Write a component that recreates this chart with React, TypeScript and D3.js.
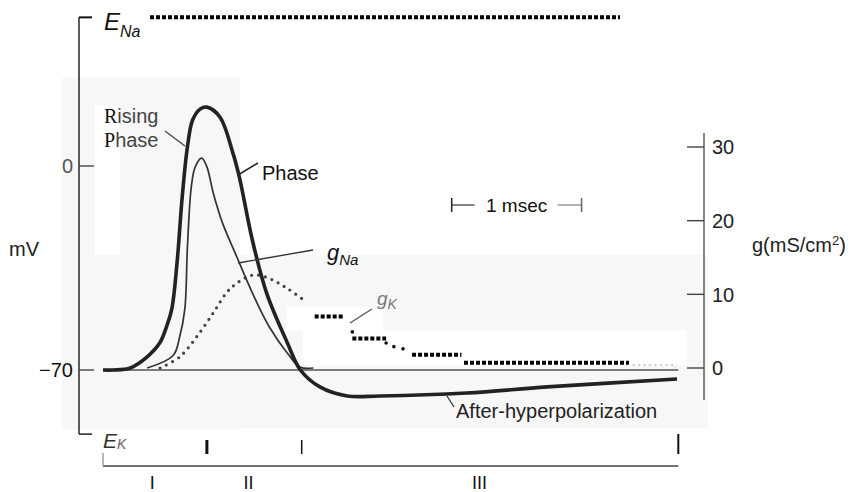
import React from 'react';
import * as d3 from 'd3';

const W = 855;
const H = 492;

// membrane potential (t in msec, mV)
const vTime = [0, 0.08, 0.21, 0.34, 0.44, 0.49, 0.53, 0.57, 0.61, 0.65, 0.69, 0.75, 0.8, 0.9, 1.0, 1.05, 1.15, 1.26, 1.42, 1.52, 1.67, 1.88, 2.13, 2.8, 3.42, 4.42];
const vMilli = [-70, -70, -69.3, -65.5, -60.5, -55, -49, -33.3, -10.6, 6.5, 15.8, 19.6, 20.2, 16.8, 4.5, -3.8, -25.4, -43.6, -60.7, -70, -75.8, -78.9, -78.9, -77.9, -75.8, -73.1];

// sodium conductance (mS/cm2)
const naTime = [0.34, 0.54, 0.59, 0.63, 0.65, 0.68, 0.71, 0.76, 0.8, 0.85, 0.92, 1.03, 1.15, 1.28, 1.42, 1.52, 1.62];
const naG = [0, 1.7, 4.2, 8.0, 16.4, 24.6, 27.3, 28.5, 27.3, 23.7, 19.7, 15.1, 10.2, 5.6, 2.0, 0.1, 0];

// potassium conductance, dotted part
const kTime = [0.44, 0.59, 0.72, 0.85, 0.95, 1.03, 1.15, 1.26, 1.42, 1.57];
const kG = [0, 1.5, 4.2, 7.5, 10.2, 11.5, 12.6, 12.3, 10.8, 8.9];
// potassium conductance, redrawn steps [t start, t end, g]
const kSteps = [
  [1.63, 1.86, 7.0],
  [1.92, 2.18, 4.0],
  [2.38, 2.76, 1.8],
  [2.78, 4.05, 0.7],
];
const kLinkTime = [1.92, 2.18, 2.24, 2.31];
const kLinkG = [4.9, 3.4, 2.9, 2.6];
const kTail = [4.08, 4.42, 0.4];

const restMv = -70;
const eNa = 51;
const eK = -92;
const leftTicks = [0, -70];
const rightTicks = [0, 10, 20, 30];
const phaseBounds = [0.8, 1.53, 4.43];
const phaseLabels = ['I', 'II', 'III'];
const phaseLabelT = [0.38, 1.12, 2.9];
const scaleBarT = 2.685;

const font = '"Liberation Sans", Arial, sans-serif';

export default function App() {
  const x = d3.scaleLinear().domain([0, 4.42]).range([103, 677]);
  const yV = d3.scaleLinear().domain([-70, 0]).range([370, 166]);
  const yG = d3.scaleLinear().domain([0, 30]).range([368, 147]);

  const line = d3.line<[number, number]>().curve(d3.curveCatmullRom.alpha(0.5));
  const vPath = line(vTime.map((t, i) => [x(t), yV(vMilli[i])]));
  const naPath = line(naTime.map((t, i) => [x(t), yG(naG[i])]));
  const kPath = line(kTime.map((t, i) => [x(t), yG(kG[i])]));

  const axisX = 79;
  const rAxisX = 704;
  const bg = '#f7f7f7';

  return (
    <svg width={W} height={H} style={{ position: 'absolute', left: 0, top: 0, display: 'block' }} fontFamily={font}>
      <rect width={W} height={H} fill="#fff" />
      {/* scan background patches */}
      <rect x={62} y={78} width={178} height={352} fill={bg} />
      <rect x={240} y={255} width={468} height={173} fill={bg} />
      <rect x={95} y={105} width={25} height={150} fill="#fff" />
      <rect x={287} y={307} width={96} height={24} fill="#fff" />
      <rect x={303} y={330} width={384} height={35} fill="#fff" />

      {/* left axis */}
      <line x1={axisX} x2={axisX} y1={yV(eNa)} y2={yV(eK)} stroke="#333" strokeWidth={1.6} />
      <line x1={axisX} x2={92} y1={yV(eNa)} y2={yV(eNa)} stroke="#111" strokeWidth={2} />
      <line x1={axisX} x2={92} y1={yV(eK)} y2={yV(eK)} stroke="#333" strokeWidth={1.6} />
      {leftTicks.map(v => (
        <g key={v}>
          <line x1={axisX} x2={94} y1={yV(v)} y2={yV(v)} stroke="#444" strokeWidth={1.4} />
          <text x={73} y={yV(v)} dy="0.36em" textAnchor="end" fontSize={20} fill={v === 0 ? '#555' : '#111'}>
            {v < 0 ? '\u2212' + Math.abs(v) : v}
          </text>
        </g>
      ))}
      <text x={9} y={256} fontSize={20} fill="#222">mV</text>

      {/* E_Na and E_K */}
      <text x={104} y={30} fontSize={24} fontStyle="italic" fill="#111">
        E<tspan fontSize={16} dy={7}>Na</tspan>
      </text>
      <line x1={150} x2={620} y1={yV(eNa)} y2={yV(eNa)} stroke="#000" strokeWidth={4} strokeDasharray="4,2" />
      <text x={103} y={448} fontSize={21} fontStyle="italic" fill="#333">
        E<tspan fontSize={14} dy={1} fill="#666">K</tspan>
      </text>

      {/* right axis */}
      <line x1={rAxisX} x2={rAxisX} y1={133} y2={400} stroke="#555" strokeWidth={1.4} />
      {rightTicks.map(g => (
        <g key={g}>
          <line x1={687} x2={rAxisX} y1={yG(g)} y2={yG(g)} stroke="#444" strokeWidth={1.4} />
          <text x={712} y={yG(g)} dy="0.36em" fontSize={20} fill="#222">{g}</text>
        </g>
      ))}
      <text x={752} y={252} fontSize={20} fill="#222">
        g(mS/cm<tspan fontSize={13} dy={-7}>2</tspan><tspan dy={7}>)</tspan>
      </text>

      {/* resting baseline */}
      <line x1={x(0)} x2={x(4.43)} y1={yV(restMv)} y2={yV(restMv)} stroke="#555" strokeWidth={1.6} />

      {/* conductances */}
      <path d={kPath ?? ''} fill="none" stroke="#444" strokeWidth={3.2} strokeLinecap="round" strokeDasharray="0,7" />
      {kSteps.map((s, i) => (
        <line key={i} x1={x(s[0])} x2={x(s[1])} y1={yG(s[2])} y2={yG(s[2])} stroke="#000" strokeWidth={4} strokeDasharray="4,2" />
      ))}
      {kLinkTime.map((t, i) => (
        <circle key={i} cx={x(t)} cy={yG(kLinkG[i])} r={1.8} fill="#111" />
      ))}
      <line x1={x(kTail[0])} x2={x(kTail[1])} y1={yG(kTail[2])} y2={yG(kTail[2])} stroke="#aaa" strokeWidth={1.5} strokeDasharray="1.5,4" />
      <path d={naPath ?? ''} fill="none" stroke="#333" strokeWidth={1.7} />
      <path d={vPath ?? ''} fill="none" stroke="#222" strokeWidth={3.6} strokeLinejoin="round" />

      {/* labels and leaders */}
      <text x={104} y={123} fontSize={20} fill="#444">
        <tspan fontFamily='"Liberation Serif", serif' fill="#111">R</tspan>ising
      </text>
      <text x={104} y={147} fontSize={20} fill="#444">
        <tspan fontFamily='"Liberation Serif", serif' fill="#111">P</tspan>hase
      </text>
      <line x1={165} y1={131} x2={185} y2={146} stroke="#444" strokeWidth={1.3} />

      <text x={262} y={180} fontSize={20} fill="#111">Phase</text>
      <line x1={238} y1={175} x2={258} y2={163} stroke="#222" strokeWidth={1.5} />

      <text x={327} y={260} fontSize={22} fontStyle="italic" fill="#111">
        g<tspan fontSize={15} dy={5}>Na</tspan>
      </text>
      <line x1={238} y1={263} x2={313} y2={250} stroke="#333" strokeWidth={1.3} />

      <text x={377} y={305} fontSize={19} fontStyle="italic" fill="#777">
        g<tspan fontSize={14} dy={4}>K</tspan>
      </text>
      <line x1={350} y1={323} x2={372} y2={309} stroke="#555" strokeWidth={1.3} />

      <text x={456} y={418} fontSize={20} fill="#222">After-hyperpolarization</text>
      <line x1={447} y1={396} x2={454} y2={407} stroke="#333" strokeWidth={1.3} />

      {/* time scale bar */}
      <line x1={x(scaleBarT)} x2={x(scaleBarT) + 23} y1={205} y2={205} stroke="#333" strokeWidth={1.2} />
      <line x1={x(scaleBarT)} x2={x(scaleBarT)} y1={198} y2={212} stroke="#222" strokeWidth={1.5} />
      <text x={486} y={212} fontSize={19} fill="#111">1 msec</text>
      <line x1={x(scaleBarT + 1) - 24} x2={x(scaleBarT + 1)} y1={205} y2={205} stroke="#999" strokeWidth={1.5} />
      <line x1={x(scaleBarT + 1)} x2={x(scaleBarT + 1)} y1={198} y2={212} stroke="#666" strokeWidth={1.5} />

      {/* phase bar */}
      <line x1={x(0)} x2={x(phaseBounds[2])} y1={466} y2={466} stroke="#444" strokeWidth={1.6} />
      <line x1={x(0)} x2={x(0)} y1={453} y2={466} stroke="#999" strokeWidth={1.4} />
      {phaseBounds.map((t, i) => (
        <line key={t} x1={x(t)} x2={x(t)} y1={i === 2 ? 434 : 440} y2={454}
          stroke="#111" strokeWidth={i === 0 ? 3 : i === 1 ? 1.5 : 2} />
      ))}
      {phaseLabels.map((s, i) => (
        <text key={s} x={x(phaseLabelT[i])} y={489} textAnchor="middle" fontSize={18} fill="#111">{s}</text>
      ))}
    </svg>
  );
}
